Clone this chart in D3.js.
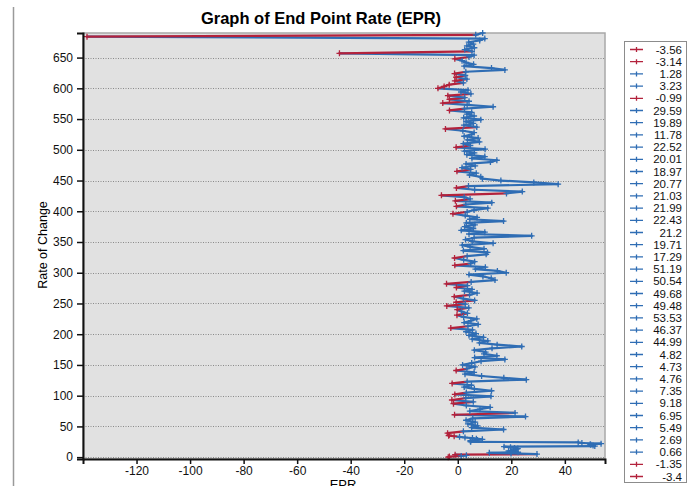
<!DOCTYPE html>
<html>
<head>
<meta charset="utf-8">
<script src="https://cdn.jsdelivr.net/npm/d3@7"></script>
<style>
  body { margin: 0; background: #fff; }
  svg { display: block; font-family: "Liberation Sans", Arial, sans-serif; }
</style>
</head>
<body>
<div id="chart"></div>
<script>
// EPR for transects 0..35 (these also label the legend)
var eprFirst = [-3.56, -3.14, 1.28, 3.23, -0.99, 29.59, 19.89, 11.78, 22.52, 20.01,
  18.97, 20.77, 21.03, 21.99, 22.43, 21.2, 19.71, 17.29, 51.19, 50.54,
  49.68, 49.48, 53.53, 46.37, 44.99, 4.82, 4.73, 4.76, 7.35, 9.18,
  6.95, 5.49, 2.69, 0.66, -1.35, -3.4];

// transects 36..690, read every 3rd transect off the picture
var restIds = d3.range(36, 691, 3);
var eprRest = [
  -3.2, -3.8, 2.1, 17.1, 5.2, 7.4, 3.8, 6.5, 3.1, 5.6,
  25.3, -1.2, 21.4, 4.5, 8.3, 12.1, 3.2, -1.6, 5.8, -2.2,
  3.0, 12.4, -1.1, 3.2, 12.6, 6.2, 2.4, 5.1, -2.1, 3.5,
  25.6, 17.2, 8.9, 2.7, 6.1, -0.6, 3.4, 6.4, 1.8, 5.2,
  8.7, 17.6, 6.3, 14.6, 9.8, 10.4, 6.2, 12.8, 23.9, 14.7,
  8.1, 11.2, 5.4, 9.6, 4.2, 6.8, 3.1, 5.5, -2.6, 3.8,
  7.6, 2.4, 4.9, 7.1, 2.2, -0.3, 3.6, 1.4, -0.2, 4.1,
  -4.1, 2.8, -0.6, 6.3, 2.1, -1.3, 4.4, 7.2, 2.5, 5.3,
  -0.5, 3.6, -4.2, 5.0, 13.9, 12.5, 9.4, 4.2, 18.1, 14.8,
  6.6, 10.3, -1.1, 4.8, 6.3, 2.2, -1.2, 3.5, 10.6, 11.1,
  2.1, 9.8, 4.6, 1.7, 13.2, 5.4, 2.9, 6.1, 27.6, 4.2,
  10.1, 1.3, 5.8, 2.6, 6.4, 3.2, 17.1, 4.5, 7.2, 2.8,
  -1.8, 3.5, 6.1, 11.2, -0.5, 3.0, 12.7, -0.9, 4.6, 2.4,
  -6.1, 18.2, 24.1, 6.3, -0.5, 4.0, 37.5, 28.4, 16.1, 9.2,
  8.6, 4.4, 6.9, -0.3, 4.8, 1.6, 6.5, 3.1, 12.2, 14.6,
  5.3, 10.1, 3.4, 6.2, 2.5, 10.2, -0.6, 4.7, 2.1, 8.1,
  3.6, 7.6, 2.4, 5.2, 6.1, 1.9, -4.6, 7.1, 2.3, 5.8,
  3.1, 8.6, 2.2, 6.1, 3.4, 5.2, -3.1, 2.5, 13.2, 3.5,
  -5.6, 4.2, -3.1, 2.6, -3.7, 4.9, 1.2, 3.8, -7.4, -5.1,
  -3.2, 2.1, -1.1, 3.4, -0.6, 2.8, -1.2, 3.0, 17.6, 12.6,
  2.4, 5.9, 3.1, 1.6, -1.1, 4.2, 6.1, -44.2, 5.3, 2.6,
  6.2, 3.4, 5.8, 4.1, 8.2, 10.1, -138.5, 6.7, 9.3
];

var xTicks = [-120, -100, -80, -60, -40, -20, 0, 20, 40];
var yTicks = d3.range(0, 651, 50);

var blue = '#2f6db4';
var red = '#b3223c';

var points = eprFirst.map(function(v, i) { return {t: i, v: v}; })
  .concat(eprRest.map(function(v, i) { return {t: restIds[i], v: v}; }));

var width = 696, height = 486;
var svg = d3.select('#chart').append('svg').attr('width', width).attr('height', height);

var plotLeft = 83, plotRight = 605, plotTop = 33, plotBottom = 459;
var x = d3.scaleLinear().domain([-140, 55]).range([plotLeft, plotRight]);
var y = d3.scaleLinear().domain([-3, 690]).range([plotBottom, plotTop]);

// outer frame line on the left
svg.append('line').attr('x1', 13.5).attr('x2', 13.5).attr('y1', 7).attr('y2', height)
  .attr('stroke', '#9a9a9a').attr('stroke-width', 1.5);

svg.append('text').attr('x', 321).attr('y', 24).attr('text-anchor', 'middle')
  .attr('font-size', 16.5).attr('font-weight', 'bold').text('Graph of End Point Rate (EPR)');

// plot background
svg.append('rect').attr('x', plotLeft).attr('y', plotTop)
  .attr('width', plotRight - plotLeft).attr('height', plotBottom - plotTop)
  .attr('fill', '#e1e1e1').attr('stroke', '#a8a8a8').attr('stroke-width', 1.5);

// grid
svg.selectAll('.grid').data(yTicks).enter().append('line')
  .attr('x1', plotLeft).attr('x2', plotRight)
  .attr('y1', function(d) { return Math.round(y(d)) + 0.5; })
  .attr('y2', function(d) { return Math.round(y(d)) + 0.5; })
  .attr('stroke', '#8a8a8a').attr('stroke-width', 1).attr('stroke-dasharray', '1,1.5');

var plot = svg.append('g');
var segs = d3.pairs(points);
plot.selectAll('.seg').data(segs).enter().append('line')
  .attr('x1', function(d) { return x(d[0].v); })
  .attr('y1', function(d) { return y(d[0].t); })
  .attr('x2', function(d) { return x(d[1].v); })
  .attr('y2', function(d) { return y(d[1].t); })
  .attr('stroke', function(d) { return d[0].v < 0 ? red : blue; })
  .attr('stroke-width', 2.2)
  .attr('stroke-linecap', 'round');

plot.selectAll('.mk').data(points).enter().append('path')
  .attr('transform', function(d) { return 'translate(' + x(d.v) + ',' + y(d.t) + ')'; })
  .attr('d', 'M-3,0H3M0,-3V3')
  .attr('stroke', function(d) { return d.v < 0 ? red : blue; })
  .attr('stroke-width', 1.3);

// axes
var yAxis = svg.append('g').attr('transform', 'translate(' + plotLeft + ',0)')
  .call(d3.axisLeft(y).tickValues(yTicks).tickSize(6).tickPadding(4));
var xAxis = svg.append('g').attr('transform', 'translate(0,' + plotBottom + ')')
  .call(d3.axisBottom(x).tickValues(xTicks).tickSize(5).tickPadding(2));
[yAxis, xAxis].forEach(function(a) {
  a.select('.domain').attr('stroke', '#111').attr('stroke-width', 2);
  a.selectAll('.tick line').attr('stroke', '#111').attr('stroke-width', 1.5);
  a.selectAll('.tick text').attr('font-size', 12).attr('fill', '#111')
    .attr('font-family', '"Liberation Sans", Arial, sans-serif');
});
xAxis.selectAll('.tick text').text(function(d) { return d < 0 ? '-' + Math.abs(d) : d; });

svg.append('text').attr('x', 343).attr('y', 489).attr('text-anchor', 'middle')
  .attr('font-size', 13).text('EPR');
svg.append('text').attr('transform', 'translate(47,245) rotate(-90)').attr('text-anchor', 'middle')
  .attr('font-size', 12.5).text('Rate of Change');

// legend
var legend = svg.append('g');
legend.append('rect').attr('x', 624.5).attr('y', 41.5).attr('width', 62).attr('height', 441)
  .attr('fill', '#fff').attr('stroke', '#8c8c8c').attr('stroke-width', 1);
var rows = legend.selectAll('.row').data(eprFirst).enter().append('g')
  .attr('transform', function(d, i) { return 'translate(0,' + (49.5 + i * 12.2) + ')'; });
rows.append('path').attr('d', 'M630,0H643M636.5,-2.5V2.5')
  .attr('stroke', function(d) { return d < 0 ? red : blue; }).attr('stroke-width', 1.3);
rows.append('text').attr('x', 682).attr('y', 4).attr('text-anchor', 'end')
  .attr('font-size', 11.5).attr('fill', '#111').text(function(d) { return d; });
</script>
</body>
</html>
